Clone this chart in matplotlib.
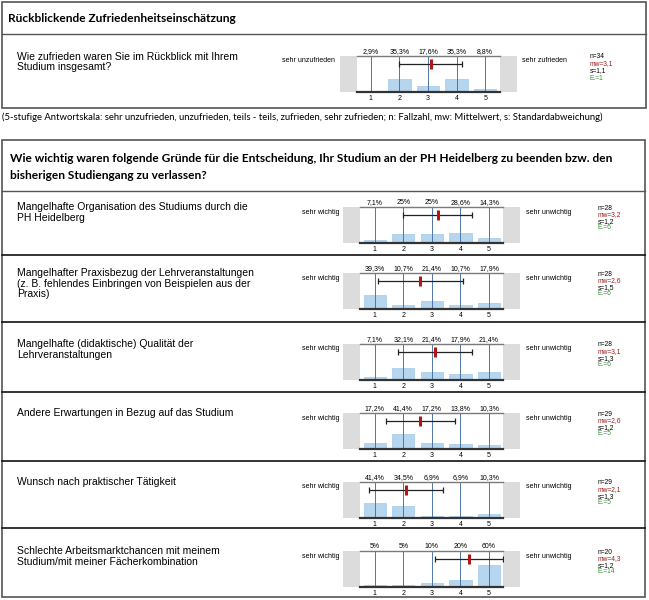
import matplotlib
matplotlib.use("Agg")
import matplotlib.pyplot as plt
from matplotlib.patches import Rectangle

W, H = 649, 600

# --- data ---------------------------------------------------------------
title_1 = "Rückblickende Zufriedenheitseinschätzung"
question_1 = "Wie zufrieden waren Sie im Rückblick mit Ihrem\nStudium insgesamt?"
pct_1 = [2.9, 35.3, 17.6, 35.3, 8.8]
n_1, mw_1, s_1, e_1 = 34, 3.1, 1.1, 1

note = ("(5-stufige Antwortskala: sehr unzufrieden, unzufrieden, teils - teils, zufrieden, "
        "sehr zufrieden; n: Fallzahl, mw: Mittelwert, s: Standardabweichung)")

title_2 = ("Wie wichtig waren folgende Gründe für die Entscheidung, Ihr Studium an der PH Heidelberg zu beenden bzw. den\n"
           "bisherigen Studiengang zu verlassen?")
reasons = [
    "Mangelhafte Organisation des Studiums durch die\nPH Heidelberg",
    "Mangelhafter Praxisbezug der Lehrveranstaltungen\n(z. B. fehlendes Einbringen von Beispielen aus der\nPraxis)",
    "Mangelhafte (didaktische) Qualität der\nLehrveranstaltungen",
    "Andere Erwartungen in Bezug auf das Studium",
    "Wunsch nach praktischer Tätigkeit",
    "Schlechte Arbeitsmarktchancen mit meinem\nStudium/mit meiner Fächerkombination",
]
pct_2 = [
    [7.1, 25, 25, 28.6, 14.3],
    [39.3, 10.7, 21.4, 10.7, 17.9],
    [7.1, 32.1, 21.4, 17.9, 21.4],
    [17.2, 41.4, 17.2, 13.8, 10.3],
    [41.4, 34.5, 6.9, 6.9, 10.3],
    [5, 5, 10, 20, 60],
]
n_2 = [28, 28, 28, 29, 29, 20]
mw_2 = [3.2, 2.6, 3.1, 2.6, 2.1, 4.3]
s_2 = [1.2, 1.5, 1.3, 1.2, 1.3, 1.2]
e_2 = [6, 6, 6, 5, 5, 14]
scale = [1, 2, 3, 4, 5]

ARIAL = "Liberation Sans"
CAL = "Lato"


def de(v):
    return f"{v:g}".replace(".", ",")


fig = plt.figure(figsize=(W / 100, H / 100), dpi=100)
bg = fig.add_axes([0, 0, 1, 1])
bg.set_xlim(0, W)
bg.set_ylim(H, 0)
bg.axis("off")


def px_axes(x0, y0, x1, y1):
    return fig.add_axes([x0 / W, 1 - y1 / H, (x1 - x0) / W, (y1 - y0) / H])


def draw_scale(x0, top, pct, n, mw, s, e, left_lab, right_lab, stat_x, stat_gap):
    x1 = x0 + 143
    bottom = top + 36
    bg.add_patch(Rectangle((x0 - 17, top), 17, 36, color="#dcdcdc", lw=0))
    bg.add_patch(Rectangle((x1, top), 17, 36, color="#dcdcdc", lw=0))
    bg.text(x0 - 21, top + 5, left_lab, fontsize=5, family=ARIAL, ha="right", va="center")
    bg.text(x1 + 23, top + 5, right_lab, fontsize=5, family=ARIAL, ha="left", va="center")
    cols = ["black", "#9b1c1c", "black", "#3b8c3b"]
    labs = [f"n={n}", f"mw={de(mw)}", f"s={de(s)}", f"E.={e}"]
    for i, (lab, c) in enumerate(zip(labs, cols)):
        bg.text(stat_x, top + 1 + i * stat_gap, lab, fontsize=4.8, family=ARIAL,
                color=c, ha="left", va="center")

    ax = px_axes(x0, top, x1, bottom)
    ax.set_xlim(0.5, 5.5)
    ax.set_ylim(0, 100)
    ax.bar(scale, pct, width=0.78, color="#b6d5ee", edgecolor="#a3c8e8", lw=0.5, zorder=1)
    ax.vlines(scale, 0, 100, color="#4e76a6", lw=0.7, zorder=2)
    ax.errorbar([mw], [78], xerr=[s], color="#222222", lw=0.9, capsize=2,
                capthick=0.9, zorder=3)
    ax.plot([mw, mw], [64, 92], color="#b01818", lw=2.2, zorder=4,
            solid_capstyle="butt")
    for x, p in zip(scale, pct):
        ax.text(x, 103, de(p) + "%", fontsize=5, family=ARIAL, ha="center", va="bottom")
    ax.set_xticks(scale)
    ax.set_xticklabels([str(v) for v in scale], fontsize=5, family=ARIAL)
    ax.tick_params(axis="x", length=0, pad=2)
    ax.set_yticks([])
    for sp in ["left", "right"]:
        ax.spines[sp].set_visible(False)
    ax.spines["top"].set_color("#7a7a7a")
    ax.spines["top"].set_linewidth(1.0)
    ax.spines["bottom"].set_color("#333333")
    ax.spines["bottom"].set_linewidth(1.6)


# --- box 1 -----------------------------------------------------------------
bg.add_patch(Rectangle((2, 2), 644, 106, fill=False, ec="#555555", lw=1.2))
bg.plot([2, 646], [34, 34], color="#555555", lw=1.0)
bg.text(8, 18, title_1, fontsize=8.6, family=CAL, weight="bold", ha="left", va="center")
bg.text(17, 52, question_1, fontsize=7.5, family=ARIAL, ha="left", va="top", linespacing=1.05)
draw_scale(356.5, 56, pct_1, n_1, mw_1, s_1, e_1, "sehr unzufrieden", "sehr zufrieden",
           590, 7.0)

bg.text(2, 117, note, fontsize=6.8, family=CAL, ha="left", va="center")

# --- box 2 -----------------------------------------------------------------
bg.add_patch(Rectangle((2, 140), 643, 457, fill=False, ec="#555555", lw=1.2))
bg.text(10, 167, title_2, fontsize=8.6, family=CAL, weight="bold", ha="left",
        va="center", linespacing=1.65)
bg.plot([2, 645], [191, 191], color="#555555", lw=1.0)
for y in [255, 322, 392, 461, 528]:
    bg.plot([2, 645], [y, y], color="#111111", lw=1.2)

chart_tops = [207, 273, 344, 413, 482, 551]
for i, top in enumerate(chart_tops):
    bg.text(17, top - 5, reasons[i], fontsize=7.5, family=ARIAL, ha="left",
            va="top", linespacing=1.08)
    draw_scale(360.4, top, pct_2[i], n_2[i], mw_2[i], s_2[i], e_2[i],
               "sehr wichtig", "sehr unwichtig", 598, 6.6)

fig.savefig("out.png", dpi=100)
